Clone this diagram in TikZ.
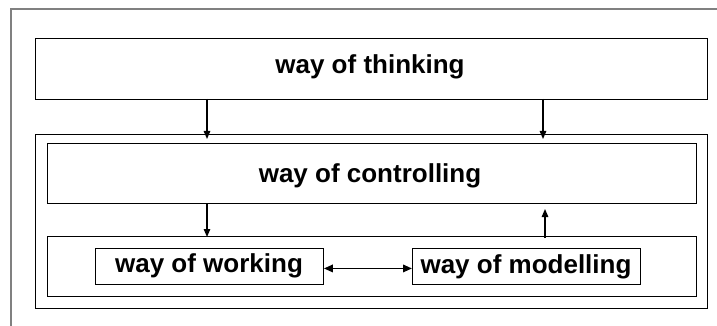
\documentclass[tikz,border=0pt]{standalone}
\usepackage{fontspec}
\setmainfont{Liberation Sans}
\usetikzlibrary{arrows.meta}
\begin{document}
\begin{tikzpicture}[x=1pt,y=-1pt,
  frame/.style={draw=black!50, line width=1.3pt},
  panel/.style={draw=black, line width=0.9pt},
  label/.style={font=\fontsize{26}{26}\selectfont\bfseries, inner sep=0pt, anchor=base},
  tip/.tip={Triangle[length=8pt,width=6.5pt]},
  bigtip/.tip={Triangle[length=9pt,width=7.5pt]},
  flow/.style={draw=black, line width=1.3pt, -tip},
  flowboth/.style={draw=black, line width=1.8pt, bigtip-bigtip}]
  \useasboundingbox (0,0) rectangle (717,326);
  \fill[white] (0,0) rectangle (717,326);
  % outer frame (only the top and left edges fall inside the page)
  \draw[frame] (11,326) -- (11,9) -- (717,9);
  % boxes
  \node[panel, minimum width=672pt, minimum height=61pt, anchor=north west] (think) at (35,38) {};
  \node[label] (thinkT) at (370,74) {way of thinking};
  \node[panel, minimum width=672pt, minimum height=174pt, anchor=north west] (inner) at (35,134) {};
  \node[panel, minimum width=649pt, minimum height=60pt, anchor=north west] (ctrl) at (47,143) {};
  \node[label] (ctrlT) at (370,182) {way of controlling};
  \node[panel, minimum width=649pt, minimum height=60pt, anchor=north west] (work) at (47,236) {};
  \node[panel, minimum width=228pt, minimum height=36pt, anchor=north west] (wow) at (95,248) {};
  \node[label] (wowT) at (209,272) {way of working};
  \node[panel, minimum width=228pt, minimum height=36pt, anchor=north west] (wom) at (412,248) {};
  \node[label] (womT) at (526,273) {way of modelling};
  % connectors
  \coordinate (a1) at (207,99);
  \coordinate (a2) at (543,99);
  \draw[flow] (a1) -- ([yshift=-5pt]a1 |- inner.north);
  \draw[flow] (a2) -- ([yshift=-5pt]a2 |- inner.north);
  \coordinate (b1) at (207,203);
  \draw[flow] (b1) -- ([yshift=-1pt]b1 |- work.north);
  \coordinate (c1) at (545,238);
  \draw[flow] (c1) -- (545,209);
  \draw[flowboth] ([yshift=-2pt]wow.east) -- ([yshift=-2pt]wom.west);
\end{tikzpicture}
\end{document}
